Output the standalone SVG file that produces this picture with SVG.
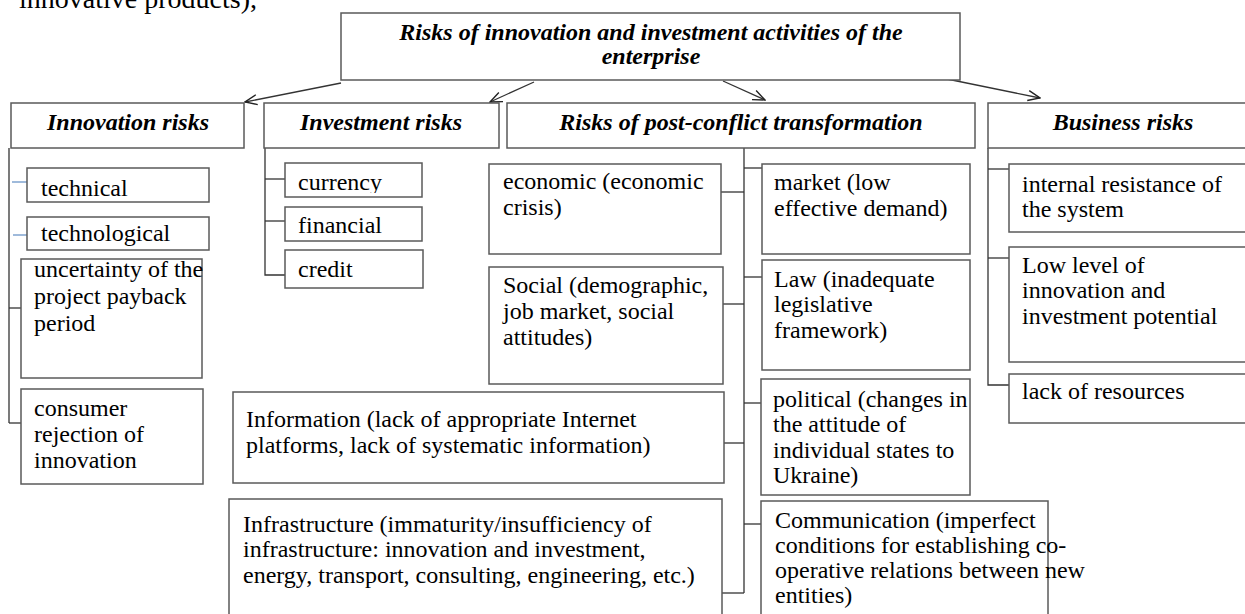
<svg xmlns="http://www.w3.org/2000/svg" width="1245" height="614" viewBox="0 0 1245 614">
<defs>
<style>
.bx{fill:#fff;stroke:#5a5a5a;stroke-width:1.5}
.t{font-family:"Liberation Serif","Times New Roman",serif;font-size:24px;fill:#000}
.h{font-family:"Liberation Serif","Times New Roman",serif;font-size:24px;font-weight:bold;font-style:italic;fill:#000}
.ln{stroke:#333;stroke-width:1.3;fill:none}
.bl{stroke:#6b95c8;stroke-width:1.3;fill:none}
</style>
<marker id="ah" markerWidth="14" markerHeight="12" refX="13" refY="6" orient="auto" markerUnits="userSpaceOnUse">
<path d="M1,1 L13,6 L1,11" fill="none" stroke="#222" stroke-width="1.4"/>
</marker>
<clipPath id="cCur"><rect x="285" y="163" width="137" height="30"/></clipPath>
<clipPath id="cTech"><rect x="27" y="217" width="182" height="29"/></clipPath>
</defs>
<rect width="1245" height="614" fill="#fff"/>
<text class="t" x="257" y="8" text-anchor="end" style="font-size:28px">innovative products),</text>

<g id="connectors">
<line class="ln" x1="341" y1="83" x2="245" y2="102" marker-end="url(#ah)"/>
<line class="ln" x1="534" y1="82" x2="490" y2="102" marker-end="url(#ah)"/>
<line class="ln" x1="723" y1="81" x2="765" y2="100" marker-end="url(#ah)"/>
<line class="ln" x1="947" y1="79" x2="1040" y2="98" marker-end="url(#ah)"/>
<!-- innovation -->
<line class="ln" x1="9" y1="148" x2="9" y2="423"/>
<line class="bl" x1="12" y1="182" x2="27" y2="182"/>
<line class="bl" x1="13" y1="235" x2="27" y2="235"/>
<line class="ln" x1="9" y1="308" x2="21" y2="308"/>
<line class="ln" x1="9" y1="423" x2="21" y2="423"/>
<!-- investment -->
<path class="ln" d="M265,148 V275 H285"/>
<line class="ln" x1="265" y1="179" x2="285" y2="179"/>
<line class="ln" x1="265" y1="221" x2="285" y2="221"/>
<!-- post-conflict -->
<line class="ln" x1="744" y1="148" x2="744" y2="593"/>
<line class="ln" x1="721" y1="192" x2="744" y2="192"/>
<line class="ln" x1="723" y1="304" x2="744" y2="304"/>
<line class="ln" x1="724" y1="443" x2="744" y2="443"/>
<line class="ln" x1="722" y1="593" x2="744" y2="593"/>
<line class="ln" x1="744" y1="168" x2="762" y2="168"/>
<line class="ln" x1="744" y1="277" x2="762" y2="277"/>
<line class="ln" x1="744" y1="403" x2="761" y2="403"/>
<line class="ln" x1="744" y1="524" x2="761" y2="524"/>
<!-- business -->
<path class="ln" d="M988,148 V385 H1009"/>
<line class="ln" x1="988" y1="169" x2="1009" y2="169"/>
<line class="ln" x1="988" y1="258" x2="1009" y2="258"/>
</g>

<g id="root">
<rect class="bx" x="341" y="13" width="619" height="67"/>
<text class="h" x="651" y="40" text-anchor="middle">Risks of innovation and investment activities of the</text>
<text class="h" x="651" y="64" text-anchor="middle">enterprise</text>
</g>

<g id="innovation-risks">
<rect class="bx" x="11" y="103" width="233" height="45"/>
<text class="h" x="128" y="130" text-anchor="middle">Innovation risks</text>
</g>
<g id="investment-risks">
<rect class="bx" x="264" y="103" width="235" height="45"/>
<text class="h" x="381" y="130" text-anchor="middle">Investment risks</text>
</g>
<g id="post-conflict-risks">
<rect class="bx" x="507" y="103" width="468" height="45"/>
<text class="h" x="741" y="130" text-anchor="middle">Risks of post-conflict transformation</text>
</g>
<g id="business-risks">
<rect class="bx" x="988" y="103" width="270" height="45"/>
<text class="h" x="1123" y="130" text-anchor="middle">Business risks</text>
</g>

<g id="technical">
<rect class="bx" x="27" y="168" width="182" height="34"/>
<text class="t" x="41" y="196">technical</text>
</g>
<g id="technological">
<rect class="bx" x="27" y="217" width="182" height="33"/>
<text class="t" x="41" y="241" clip-path="url(#cTech)">technological</text>
</g>
<g id="uncertainty">
<rect class="bx" x="21" y="259" width="181" height="119"/>
<text class="t" x="34" y="277">uncertainty of the</text>
<text class="t" x="34" y="304">project payback</text>
<text class="t" x="34" y="331">period</text>
</g>
<g id="consumer">
<rect class="bx" x="21" y="389" width="182" height="95"/>
<text class="t" x="34" y="416">consumer</text>
<text class="t" x="34" y="442">rejection of</text>
<text class="t" x="34" y="468">innovation</text>
</g>

<g id="currency">
<rect class="bx" x="285" y="163" width="137" height="34"/>
<text class="t" x="298" y="190" clip-path="url(#cCur)">currency</text>
</g>
<g id="financial">
<rect class="bx" x="285" y="207" width="137" height="34"/>
<text class="t" x="298" y="233">financial</text>
</g>
<g id="credit">
<rect class="bx" x="285" y="250" width="138" height="38"/>
<text class="t" x="298" y="277">credit</text>
</g>

<g id="economic">
<rect class="bx" x="489" y="164" width="232" height="90"/>
<text class="t" x="503" y="189">economic (economic</text>
<text class="t" x="503" y="215">crisis)</text>
</g>
<g id="social">
<rect class="bx" x="489" y="267" width="234" height="117"/>
<text class="t" x="503" y="293">Social (demographic,</text>
<text class="t" x="503" y="319">job market, social</text>
<text class="t" x="503" y="345">attitudes)</text>
</g>
<g id="information">
<rect class="bx" x="233" y="392" width="491" height="91"/>
<text class="t" x="246" y="427">Information (lack of appropriate Internet</text>
<text class="t" x="246" y="453">platforms, lack of systematic information)</text>
</g>
<g id="infrastructure">
<rect class="bx" x="229" y="499" width="493" height="130"/>
<text class="t" x="243" y="532">Infrastructure (immaturity/insufficiency of</text>
<text class="t" x="243" y="557">infrastructure: innovation and investment,</text>
<text class="t" x="243" y="583">energy, transport, consulting, engineering, etc.)</text>
</g>
<g id="market">
<rect class="bx" x="762" y="164" width="208" height="90"/>
<text class="t" x="774" y="190">market (low</text>
<text class="t" x="774" y="216">effective demand)</text>
</g>
<g id="law">
<rect class="bx" x="762" y="260" width="208" height="110"/>
<text class="t" x="774" y="287">Law (inadequate</text>
<text class="t" x="774" y="312">legislative</text>
<text class="t" x="774" y="338">framework)</text>
</g>
<g id="political">
<rect class="bx" x="761" y="379" width="209" height="116"/>
<text class="t" x="773" y="407">political (changes in</text>
<text class="t" x="773" y="432">the attitude of</text>
<text class="t" x="773" y="458">individual states to</text>
<text class="t" x="773" y="483">Ukraine)</text>
</g>
<g id="communication">
<rect class="bx" x="761" y="501" width="287" height="130"/>
<text class="t" x="775" y="528">Communication (imperfect</text>
<text class="t" x="775" y="553">conditions for establishing co-</text>
<text class="t" x="775" y="578">operative relations between new</text>
<text class="t" x="775" y="603">entities)</text>
</g>

<g id="internal-resistance">
<rect class="bx" x="1009" y="164" width="250" height="68"/>
<text class="t" x="1022" y="192">internal resistance of</text>
<text class="t" x="1022" y="217">the system</text>
</g>
<g id="low-level">
<rect class="bx" x="1009" y="247" width="250" height="115"/>
<text class="t" x="1022" y="273">Low level of</text>
<text class="t" x="1022" y="298">innovation and</text>
<text class="t" x="1022" y="324">investment potential</text>
</g>
<g id="lack-of-resources">
<rect class="bx" x="1009" y="374" width="250" height="49"/>
<text class="t" x="1022" y="399">lack of resources</text>
</g>
</svg>
